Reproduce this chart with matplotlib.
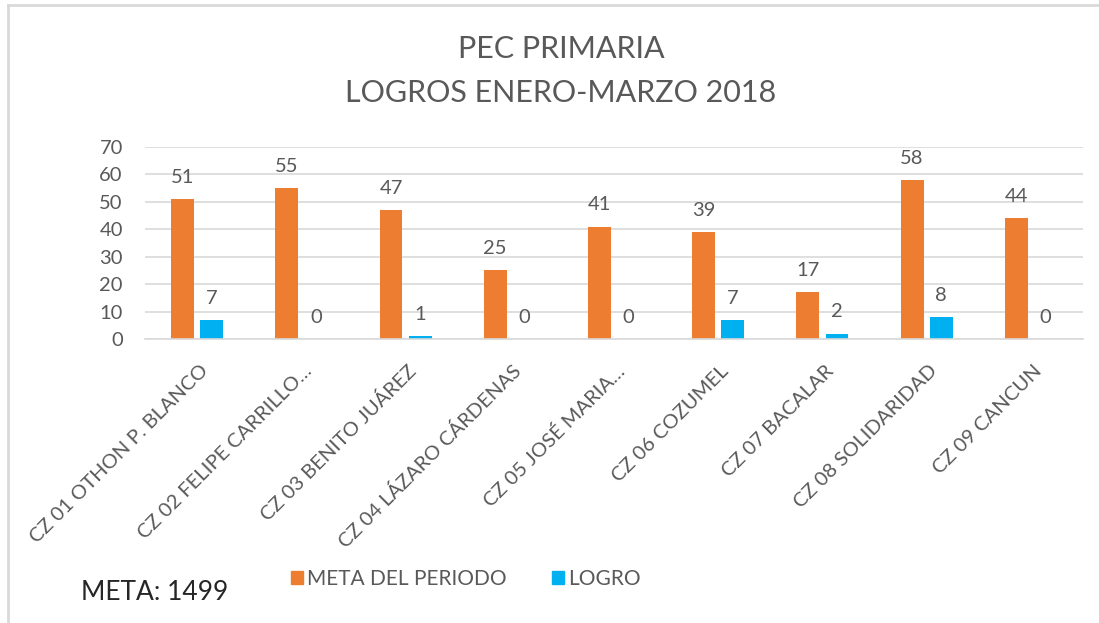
import matplotlib

matplotlib.use("Agg")

import matplotlib.pyplot as plt
import numpy as np
from matplotlib.lines import Line2D
from matplotlib.patches import Rectangle
from matplotlib.transforms import ScaledTranslation

plt.rcParams["font.family"] = ["Lato", "DejaVu Sans"]

categories = [
    "CZ 01 OTHON P. BLANCO",
    "CZ 02 FELIPE CARRILLO…",
    "CZ 03 BENITO JUÁREZ",
    "CZ 04 LÁZARO CÁRDENAS",
    "CZ 05 JOSÉ MARIA…",
    "CZ 06 COZUMEL",
    "CZ 07 BACALAR",
    "CZ 08 SOLIDARIDAD",
    "CZ 09 CANCUN",
]
meta_periodo = [51, 55, 47, 25, 41, 39, 17, 58, 44]
logro = [7, 0, 1, 0, 0, 7, 2, 8, 0]
y_ticks = [0, 10, 20, 30, 40, 50, 60, 70]
meta_total = 1499

ORANGE = "#ED7D31"
BLUE = "#00B0F0"
GRID = "#D9D9D9"
TEXT = "#595959"

W, H = 1099, 623
fig = plt.figure(figsize=(W / 100, H / 100), dpi=100)
ax = fig.add_axes([145 / W, 1 - 339 / H, (1083 - 145) / W, (339 - 147) / H])

x = np.arange(len(categories))
width = 0.22
bars_meta = ax.bar(x - 0.14, meta_periodo, width, color=ORANGE)
bars_logro = ax.bar(x + 0.14, logro, width, color=BLUE)

for bars in (bars_meta, bars_logro):
    for bar in bars:
        ax.annotate(
            f"{bar.get_height():.0f}",
            (bar.get_x() + bar.get_width() / 2, bar.get_height()),
            xytext=(0, 9.5),
            textcoords="offset points",
            ha="center",
            va="bottom",
            fontsize=14.5,
            color=TEXT,
        )

ax.set_xlim(-0.5, len(categories) - 0.5)
ax.set_ylim(0, 70)
ax.set_yticks(y_ticks)
ax.yaxis.grid(True, color=GRID, linewidth=1.2)
ax.set_axisbelow(True)
for side in ("top", "right", "left"):
    ax.spines[side].set_visible(False)
ax.spines["bottom"].set_color(GRID)
ax.spines["bottom"].set_linewidth(1.2)
ax.tick_params(axis="both", length=0, colors=TEXT, labelsize=14.5)
ax.tick_params(axis="y", pad=16)
ax.tick_params(axis="x", pad=21)

ax.set_xticks(x)
ax.set_xticklabels(categories, rotation=45, ha="right", va="center", rotation_mode="anchor")
shift = ScaledTranslation(8 / 100, 0, fig.dpi_scale_trans)
for label in ax.get_xticklabels():
    label.set_transform(label.get_transform() + shift)

fig.text(561 / W, 1 - 48.5 / H, "PEC PRIMARIA", ha="center", va="center", fontsize=22, color=TEXT)
fig.text(561 / W, 1 - 93 / H, "LOGROS ENERO-MARZO 2018", ha="center", va="center", fontsize=22, color=TEXT)

fig.text(81 / W, 1 - 592 / H, f"META: {meta_total}", ha="left", va="center", fontsize=19, color="#262626")

handles = [Rectangle((0, 0), 1, 1, color=ORANGE), Rectangle((0, 0), 1, 1, color=BLUE)]
fig.legend(
    handles,
    ["META DEL PERIODO", "LOGRO"],
    loc="center",
    bbox_to_anchor=(466 / W, 1 - 579 / H),
    ncol=2,
    frameon=False,
    fontsize=15,
    labelcolor=TEXT,
    handlelength=0.55,
    handleheight=0.6,
    handletextpad=0.2,
    columnspacing=2.2,
)

# light frame left over from the screenshot
fig.add_artist(Line2D([8 / W, 1], [1 - 5 / H, 1 - 5 / H], color=GRID, linewidth=2))
fig.add_artist(Line2D([8 / W, 8 / W], [0, 1 - 5 / H], color=GRID, linewidth=2))

fig.savefig("out.png", dpi=100)
